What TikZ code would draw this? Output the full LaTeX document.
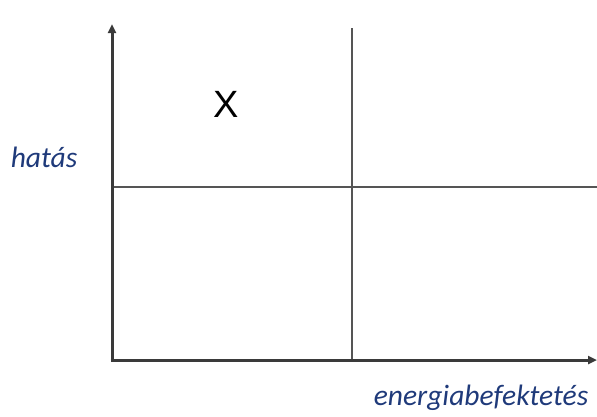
\documentclass[tikz,border=0pt]{standalone}
\usepackage{fontspec}
\setmainfont{Carlito}
\newfontfamily\xfont{Liberation Sans}
\usetikzlibrary{arrows.meta}
\definecolor{lbl}{HTML}{1F3A7A}
\definecolor{axisc}{HTML}{3A3A3A}
\definecolor{gridc}{HTML}{555555}
\begin{document}
\begin{tikzpicture}[x=1pt,y=-1pt,
  axisline/.style={draw=axisc,line width=3pt,-{Triangle[length=9pt,width=8pt]}},
  gridline/.style={draw=gridc,line width=1.3pt},
  lbltext/.style={text=lbl,font=\fontsize{29.5}{34}\selectfont\itshape,inner sep=0pt}]
\useasboundingbox (0,0) rectangle (597,416);
\coordinate (o) at (112,360);
\coordinate (ytop) at (112,24);
\coordinate (xend) at (597,360);
\coordinate (vtop) at (352,28);
\coordinate (vbot) at (352,360);
\coordinate (hl) at (112,187);
\coordinate (hr) at (597,187);
\draw[gridline] (vtop) -- (vbot);
\draw[gridline] (hl) -- (hr);
\draw[axisline] ([yshift=1.5pt]o) -- (ytop);
\draw[axisline] ([xshift=-1.5pt]o) -- (xend);
\node[font=\xfont\fontsize{38}{44}\selectfont,inner sep=0pt] (x) at (226,104) {X};
\node[lbltext] (h) at (44,157) {hatás};
\node[lbltext] (e) at (481,398) {energiabefektetés};
\end{tikzpicture}
\end{document}
